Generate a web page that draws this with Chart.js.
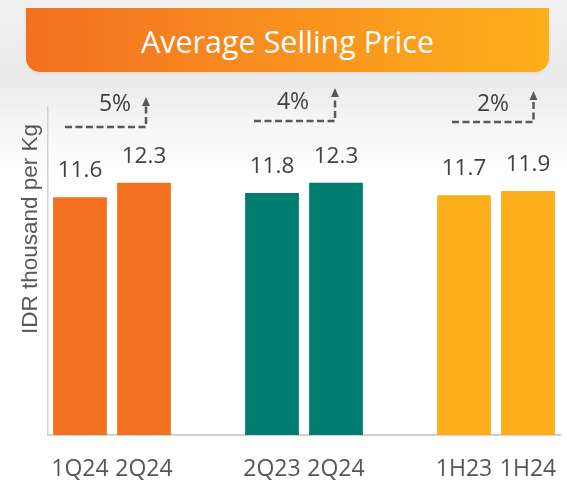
<!DOCTYPE html>
<html>
<head>
<meta charset="utf-8">
<script src="https://cdn.jsdelivr.net/npm/chart.js@4.4.1/dist/chart.umd.min.js"></script>
<style>
  html, body { margin: 0; padding: 0; background: #ffffff; }
  #wrap { position: relative; width: 567px; height: 499px; overflow: hidden; background: #ffffff; }
  #bg { position: absolute; left: 0; top: 0; width: 567px; height: 175px;
        background: linear-gradient(to bottom, #f1f1f1 0px, #ebebeb 80px, #f6f6f6 125px, #ffffff 175px); }
  #banner { position: absolute; left: 26px; top: 8px; width: 523px; height: 64px;
            border-radius: 0 0 14px 14px;
            background: linear-gradient(to right, #F37021 0%, #F8901F 50%, #FDB01A 100%);
            color: #ffffff; font-family: "Open Sans", sans-serif; font-size: 30.5px;
            line-height: 66px; text-align: center; box-shadow: 0 2px 4px rgba(0,0,0,0.06); }
  #c { position: absolute; left: 0; top: 0; }
</style>
</head>
<body>
<div id="wrap">
  <div id="bg"></div>
  <div id="banner">Average Selling Price</div>
  <canvas id="c" width="567" height="499"></canvas>
</div>
<script>
// ---- data ----
const categories = ['1Q24', '2Q24', '', '2Q23', '2Q24', '', '1H23', '1H24'];
const priceValues = [11.6, 12.3, null, 11.8, 12.3, null, 11.7, 11.9];
const groupPairs = [[0, 1], [3, 4], [6, 7]];
const growthLabels = ['5%', '4%', '2%'];
const yAxisTitle = 'IDR thousand per Kg';

// ---- styles ----
const groupColors = ['#F47021', '#007D70', '#FDAF1B'];
const barColors = priceValues.map((v, i) => groupColors[Math.floor(i / 3)]);
// per-annotation offsets (px) relative to the bar centres of each pair
const arrowStyle = [
  { dx1: -15, dx2: 2,   y: 127, tip: 97, tx: 35, ty: 103 },
  { dx1: -18, dx2: -1,  y: 121, tip: 88, tx: 21, ty: 101 },
  { dx1: -12, dx2: 5.5, y: 122, tip: 91, tx: 29, ty: 103 }
];

const overlay = {
  id: 'overlay',
  afterDatasetsDraw(chart) {
    const ctx = chart.ctx;
    const meta = chart.getDatasetMeta(0);
    const xs = chart.scales.x;
    ctx.save();
    // value labels
    ctx.fillStyle = '#404040';
    ctx.font = '22.5px "Open Sans"';
    ctx.textAlign = 'center';
    ctx.textBaseline = 'alphabetic';
    meta.data.forEach((bar, i) => {
      const v = priceValues[i];
      if (v === null) return;
      ctx.fillText(v.toFixed(1), bar.x, bar.y - 20);
    });
    // growth arrows
    groupPairs.forEach((pair, g) => {
      const s = arrowStyle[g];
      const c1 = xs.getPixelForValue(pair[0]);
      const c2 = xs.getPixelForValue(pair[1]);
      const x1 = c1 + s.dx1, x2 = c2 + s.dx2;
      ctx.strokeStyle = '#595959';
      ctx.lineWidth = 2.5;
      ctx.setLineDash([7, 3.5]);
      ctx.beginPath();
      ctx.moveTo(x1, s.y);
      ctx.lineTo(x2, s.y);
      ctx.lineTo(x2, s.tip + 8);
      ctx.stroke();
      ctx.setLineDash([]);
      ctx.fillStyle = '#595959';
      ctx.beginPath();
      ctx.moveTo(x2, s.tip);
      ctx.lineTo(x2 - 4, s.tip + 9);
      ctx.lineTo(x2 + 4, s.tip + 9);
      ctx.closePath();
      ctx.fill();
      ctx.fillStyle = '#404040';
      ctx.font = '23px "Open Sans"';
      ctx.fillText(growthLabels[g], c1 + s.tx, s.ty + 8);
    });
    // y-axis title
    ctx.translate(37, 229);
    ctx.rotate(-Math.PI / 2);
    ctx.fillStyle = '#595959';
    ctx.font = '22.5px "Liberation Sans", Arial, sans-serif';
    ctx.textAlign = 'center';
    ctx.fillText(yAxisTitle, 0, 0);
    ctx.restore();
  }
};

new Chart(document.getElementById('c'), {
  type: 'bar',
  data: {
    labels: categories,
    datasets: [{
      data: priceValues,
      backgroundColor: barColors,
      barPercentage: 0.84,
      categoryPercentage: 1.0
    }]
  },
  options: {
    responsive: false,
    animation: false,
    events: [],
    layout: { padding: { left: 48, right: 7, top: 107, bottom: 0 } },
    plugins: { legend: { display: false }, tooltip: { enabled: false }, title: { display: false } },
    scales: {
      x: {
        grid: { display: false, drawTicks: false },
        border: { display: true, color: '#d2d2d2', width: 2 },
        ticks: { color: '#555555', font: { family: 'Open Sans', size: 23 }, padding: 21, maxRotation: 0, autoSkip: false },
        afterFit(s) { s.height = 64; s.paddingLeft = 0; s.paddingRight = 0; }
      },
      y: {
        min: 0, max: 16,
        grid: { display: false, drawTicks: false },
        border: { display: true, color: '#d2d2d2', width: 1.5 },
        ticks: { display: false },
        afterFit(s) { s.width = 0; s.paddingTop = 0; s.paddingBottom = 0; }
      }
    }
  },
  plugins: [overlay]
});
</script>
</body>
</html>
